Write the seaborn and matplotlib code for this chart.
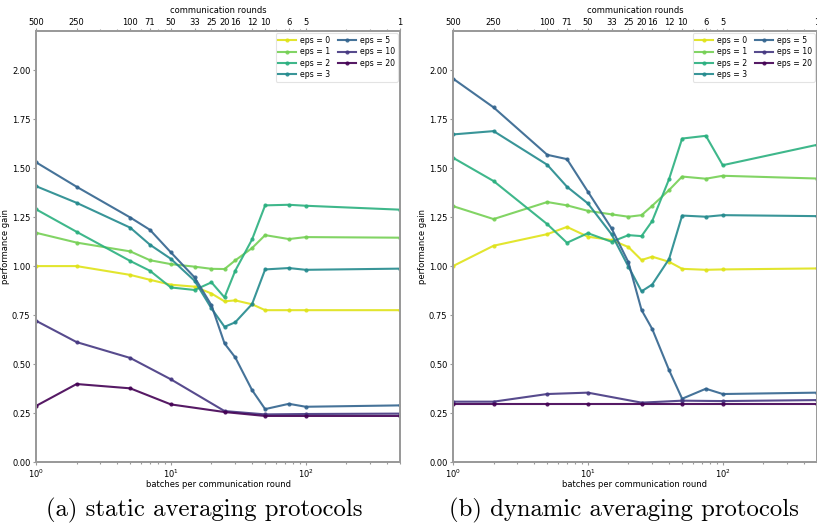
import matplotlib
matplotlib.use("Agg")
import matplotlib.pyplot as plt
import matplotlib.ticker as mticker
import numpy as np
import pandas as pd
import seaborn as sns

# ---- data ----
batches = [1, 2, 5, 7, 10, 15, 20, 25, 30, 40, 50, 75, 100, 500]
batches_sparse = [1, 2, 5, 10, 25, 50, 100, 500]
eps_levels = [0, 1, 2, 3, 5, 10, 20]
top_tick_labels = ["500", "250", "100", "71", "50", "33", "25", "20", "16", "12", "10", "6", "5", "1"]

static_eps0 = [1.00, 1.00, 0.955, 0.93, 0.905, 0.895, 0.86, 0.82, 0.825, 0.805, 0.775, 0.775, 0.775, 0.775]
static_eps1 = [1.17, 1.12, 1.075, 1.03, 1.01, 0.997, 0.986, 0.985, 1.029, 1.092, 1.158, 1.138, 1.148, 1.145]
static_eps2 = [1.29, 1.175, 1.026, 0.976, 0.891, 0.878, 0.917, 0.84, 0.976, 1.136, 1.31, 1.313, 1.308, 1.288]
static_eps3 = [1.408, 1.323, 1.196, 1.109, 1.037, 0.925, 0.784, 0.69, 0.713, 0.806, 0.983, 0.99, 0.981, 0.987]
static_eps5 = [1.53, 1.405, 1.248, 1.185, 1.07, 0.942, 0.80, 0.605, 0.534, 0.367, 0.27, 0.297, 0.282, 0.289]
static_eps10 = [0.721, 0.612, 0.531, 0.422, 0.26, 0.243, 0.245, 0.247]
static_eps20 = [0.286, 0.398, 0.376, 0.294, 0.255, 0.235, 0.235, 0.235]

dyn_eps0 = [1.00, 1.104, 1.163, 1.20, 1.15, 1.133, 1.097, 1.031, 1.048, 1.022, 0.986, 0.981, 0.983, 0.988]
dyn_eps1 = [1.306, 1.240, 1.327, 1.31, 1.282, 1.264, 1.252, 1.26, 1.308, 1.388, 1.457, 1.446, 1.461, 1.447]
dyn_eps2 = [1.553, 1.434, 1.214, 1.119, 1.168, 1.124, 1.158, 1.153, 1.23, 1.444, 1.651, 1.665, 1.515, 1.619]
dyn_eps3 = [1.672, 1.689, 1.517, 1.405, 1.32, 1.162, 0.997, 0.871, 0.906, 1.036, 1.258, 1.252, 1.26, 1.255]
dyn_eps5 = [1.957, 1.81, 1.568, 1.546, 1.38, 1.192, 1.019, 0.776, 0.679, 0.469, 0.323, 0.374, 0.347, 0.354]
dyn_eps10 = [0.308, 0.308, 0.347, 0.354, 0.303, 0.313, 0.311, 0.316]
dyn_eps20 = [0.297, 0.297, 0.297, 0.297, 0.297, 0.297, 0.297, 0.297]

captions = ["(a) static averaging protocols", "(b) dynamic averaging protocols"]


def build_df(series):
    rows = []
    for eps, vals in zip(eps_levels, series):
        xs = batches if len(vals) == len(batches) else batches_sparse
        for x, v in zip(xs, vals):
            rows.append({"batches": x, "gain": v, "eps": f"eps = {eps}"})
    return pd.DataFrame(rows)


df_static = build_df([static_eps0, static_eps1, static_eps2, static_eps3,
                      static_eps5, static_eps10, static_eps20])
df_dyn = build_df([dyn_eps0, dyn_eps1, dyn_eps2, dyn_eps3,
                   dyn_eps5, dyn_eps10, dyn_eps20])

cmap = plt.get_cmap("viridis")
colors = [cmap(v) for v in np.linspace(0, 0.95, 7)][::-1]
hue_order = [f"eps = {e}" for e in eps_levels]
palette = dict(zip(hue_order, colors))

plt.rcParams["font.family"] = ["DejaVu Sans"]
W, H = 817, 528
fig = plt.figure(figsize=(W / 100, H / 100), dpi=100)
fs = 6.0
spine_col = "#9a9a9a"

panels = [(36, df_static, 204), (453, df_dyn, 624)]
for i, (x0, df, cap_x) in enumerate(panels):
    ax = fig.add_axes([x0 / W, (H - 462) / H, 364 / W, 431 / H])
    sns.lineplot(data=df, x="batches", y="gain", hue="eps", hue_order=hue_order,
                 palette=palette, marker="o", markersize=3, markeredgewidth=0,
                 linewidth=1.5, alpha=0.9, ax=ax)
    ax.set_xscale("log")
    ax.set_xlim(1, 500)
    ax.set_ylim(0, 2.2)
    ax.set_yticks(np.arange(0, 2.01, 0.25))
    ax.yaxis.set_major_formatter(mticker.FormatStrFormatter("%.2f"))
    ax.set_xlabel("batches per communication round", fontsize=fs, labelpad=0)
    ax.set_ylabel("performance gain", fontsize=fs, labelpad=1.5)
    ax.tick_params(axis="both", which="both", labelsize=fs, color=spine_col,
                   length=2.5, width=0.8, pad=1.5)
    ax.tick_params(axis="x", which="minor", length=1.5)
    for s in ax.spines.values():
        s.set_color(spine_col)
        s.set_linewidth(1.4)

    leg = ax.legend(ncol=2, loc="upper right", fontsize=5.6, frameon=True,
                    handlelength=2.3, columnspacing=1.0, labelspacing=0.3,
                    borderpad=0.35, handletextpad=0.5, fancybox=True,
                    borderaxespad=0.3)
    leg.get_frame().set_edgecolor("#dddddd")
    leg.get_frame().set_linewidth(0.8)
    leg.set_title(None)

    top = ax.twiny()
    top.set_xscale("log")
    top.set_xlim(ax.get_xlim())
    top.set_xticks(batches)
    top.set_xticklabels(top_tick_labels)
    top.xaxis.set_minor_locator(mticker.LogLocator(base=10, subs=np.arange(2, 10)))
    top.xaxis.set_minor_formatter(mticker.NullFormatter())
    top.set_xlabel("communication rounds", fontsize=fs, labelpad=4)
    top.tick_params(axis="x", which="both", labelsize=fs, color=spine_col,
                    length=2.0, width=0.8, pad=0.8)
    top.tick_params(axis="x", which="minor", length=1.5)
    for s in top.spines.values():
        s.set_color(spine_col)
        s.set_linewidth(1.4)

    fig.text(cap_x / W, (H - 510) / H, captions[i], family="cmr10", fontsize=17.8,
             ha="center", va="center")

fig.savefig("out.png", dpi=100)
